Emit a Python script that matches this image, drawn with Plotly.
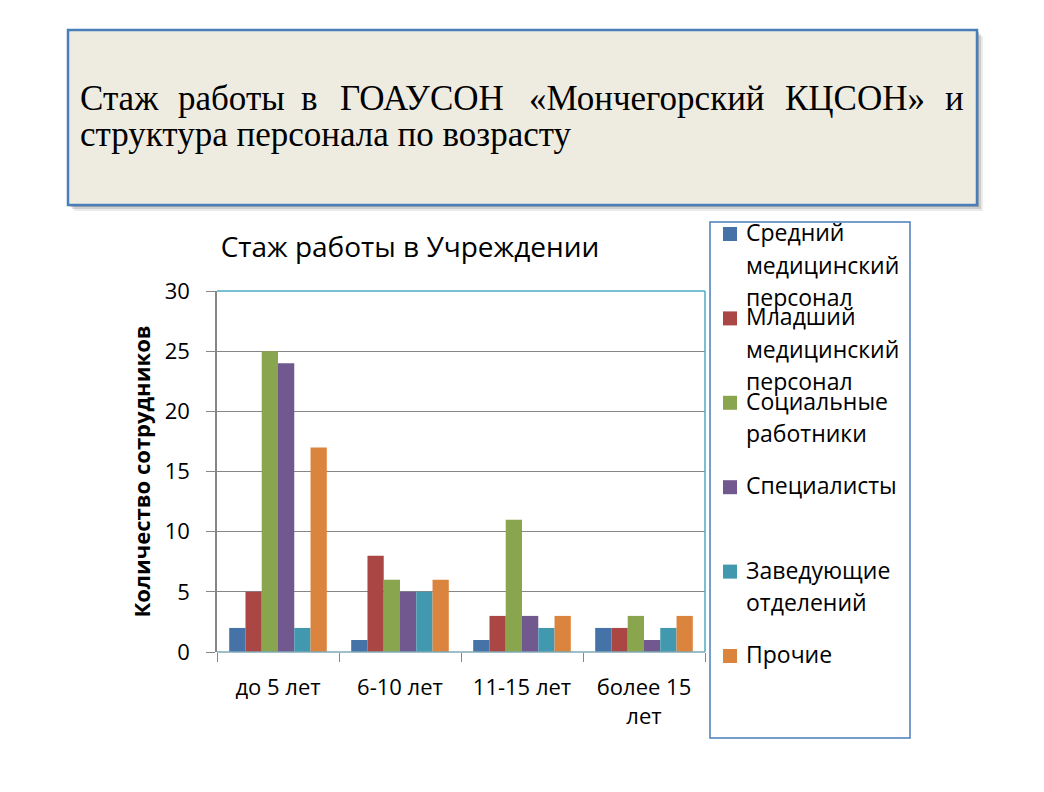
import plotly.graph_objects as go

# ---------------- data ----------------
categories = ["до 5 лет", "6-10 лет", "11-15 лет", "более 15<br>лет"]
series_names = [
    "Средний медицинский персонал",
    "Младший медицинский персонал",
    "Социальные работники",
    "Специалисты",
    "Заведующие отделений",
    "Прочие",
]
legend_lines = [
    ["Средний", "медицинский", "персонал"],
    ["Младший", "медицинский", "персонал"],
    ["Социальные", "работники"],
    ["Специалисты"],
    ["Заведующие", "отделений"],
    ["Прочие"],
]
srednij = [2, 1, 1, 2]
mladshij = [5, 8, 3, 2]
socialnye = [25, 6, 11, 3]
specialisty = [24, 5, 3, 1]
zaveduyushchie = [2, 5, 2, 2]
prochie = [17, 6, 3, 3]
values = [srednij, mladshij, socialnye, specialisty, zaveduyushchie, prochie]
colors = ["#4572A7", "#AA4643", "#89A54E", "#71588F", "#4198AF", "#DB843D"]

y_ticks = [0, 5, 10, 15, 20, 25, 30]
chart_title = "Стаж работы в Учреждении"
y_title = "Количество сотрудников"
slide_line1 = ["Стаж", "работы", "в", "ГОАУСОН", "«Мончегорский", "КЦСОН»", "и"]
slide_line2 = "структура персонала по возрасту"

# ---------------- layout helpers ----------------
OFF = 8                      # browser body margin
W, H = 1044 - OFF, 792 - OFF  # figure size
PL, PR, PT, PB = 217, 705, 291, 652  # plot area in page pixels


def X(px):
    return (px - PL) / (PR - PL)


def Y(py):
    return (PB - py) / (PB - PT)


fig = go.Figure()
for name, vals, col in zip(series_names, values, colors):
    fig.add_trace(go.Bar(name=name, x=categories, y=vals, marker_color=col,
                         marker_line_width=0, showlegend=False))

shapes = []
annotations = []

# slide title box with shadow
for off, alpha in [(6, 0.08), (4, 0.12), (2, 0.18)]:
    shapes.append(dict(type="rect", xref="paper", yref="paper",
                       x0=X(68 + off), x1=X(977 + off), y0=Y(205 + off), y1=Y(30 + off),
                       fillcolor=f"rgba(0,0,0,{alpha})", line_width=0, layer="below"))
shapes.append(dict(type="rect", xref="paper", yref="paper",
                   x0=X(68), x1=X(977), y0=Y(205), y1=Y(30),
                   fillcolor="#EEECE1", line=dict(color="#4A7EBB", width=2.5), layer="below"))

word_x = [78, 176, 299, 338, 527, 783, 966]
serif = "Liberation Serif"
for i, (w, wx) in enumerate(zip(slide_line1, word_x)):
    annotations.append(dict(text=w, xref="paper", yref="paper", x=X(wx), y=Y(98),
                            xanchor="right" if i == len(slide_line1) - 1 else "left",
                            yanchor="middle", showarrow=False,
                            font=dict(family=serif, size=35, color="black")))
annotations.append(dict(text=slide_line2, xref="paper", yref="paper", x=X(78), y=Y(135),
                        xanchor="left", yanchor="middle", showarrow=False,
                        font=dict(family=serif, size=35, color="black")))

# plot area border (teal) on top, right, bottom
teal = "#4BACC6"
shapes.append(dict(type="line", xref="paper", yref="paper", x0=0, x1=1, y0=1, y1=1,
                   line=dict(color=teal, width=1.5)))
shapes.append(dict(type="line", xref="paper", yref="paper", x0=1, x1=1, y0=0, y1=1,
                   line=dict(color=teal, width=1.5)))
shapes.append(dict(type="line", xref="paper", yref="paper", x0=0, x1=1, y0=0, y1=0,
                   line=dict(color="#7FA9B5", width=1.5)))

# custom legend
shapes.append(dict(type="rect", xref="paper", yref="paper",
                   x0=X(710), x1=X(910), y0=Y(738), y1=Y(222),
                   fillcolor="white", line=dict(color="#4A7EBB", width=1.5), layer="below"))
sans = "Open Sans"
for i, (lines, col) in enumerate(zip(legend_lines, colors)):
    cy = 234 + i * 84.4
    shapes.append(dict(type="rect", xref="paper", yref="paper",
                       x0=X(723), x1=X(737), y0=Y(cy + 7), y1=Y(cy - 7),
                       fillcolor=col, line_width=0))
    for k, ln in enumerate(lines):
        annotations.append(dict(text=ln, xref="paper", yref="paper", x=X(744),
                                y=Y(cy - 2 + k * 32.5), xanchor="left", yanchor="middle",
                                showarrow=False, font=dict(family=sans, size=23, color="black")))

fig.update_layout(
    width=W, height=H,
    margin=dict(l=PL - OFF, r=W - (PR - OFF), t=PT - OFF, b=H - (PB - OFF), pad=0),
    paper_bgcolor="white", plot_bgcolor="white",
    barmode="group", bargap=0.2, bargroupgap=0,
    title=dict(text=chart_title, xref="container", yref="container",
               x=(410 - OFF) / W, y=1 - (247 - OFF) / H, xanchor="center", yanchor="middle",
               font=dict(family=sans, size=28, color="black")),
    font=dict(family=sans, size=22, color="black"),
    shapes=shapes, annotations=annotations,
    xaxis=dict(tickson="boundaries", ticks="outside", ticklen=9, tickcolor="#868686",
               showline=False, showgrid=False, tickfont=dict(size=22),
               ticklabelstandoff=20),
    yaxis=dict(range=[0, 30], tickvals=y_ticks, ticks="outside", ticklen=9,
               tickcolor="#868686", showline=True, linecolor="#868686", linewidth=1.5,
               showgrid=True, gridcolor="#868686", gridwidth=1, zeroline=False,
               tickfont=dict(size=22), ticklabelstandoff=12,
               title=dict(text="<b>" + y_title + "</b>", standoff=8,
                          font=dict(family=sans, size=22, color="black"))),
)

fig.write_html("out.html")
